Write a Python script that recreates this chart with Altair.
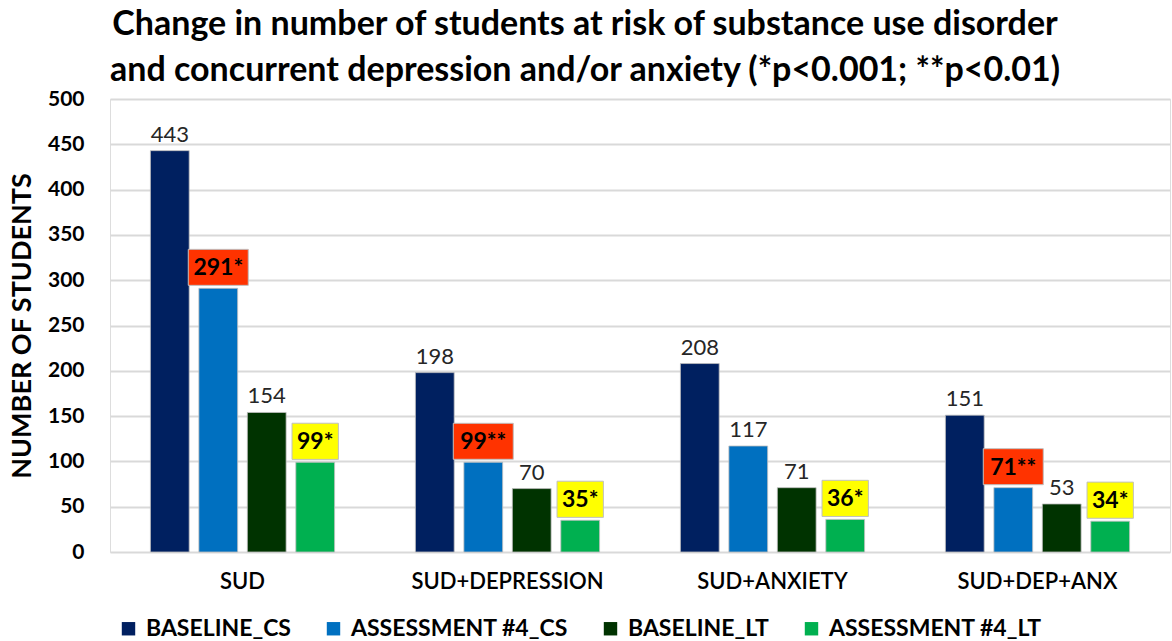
import altair as alt
import pandas as pd

categories = ["SUD", "SUD+DEPRESSION", "SUD+ANXIETY", "SUD+DEP+ANX"]
series = ["BASELINE_CS", "ASSESSMENT #4_CS", "BASELINE_LT", "ASSESSMENT #4_LT"]
colors = ["#002060", "#0070C0", "#003300", "#00B050"]

baseline_cs = [443, 198, 208, 151]
assessment_cs = [291, 99, 117, 71]
baseline_lt = [154, 70, 71, 53]
assessment_lt = [99, 35, 36, 34]

# significance markers per category
sig_cs = ["*", "**", "", "**"]
sig_lt = ["*", "*", "*", "*"]

title_lines = [
    "Change in number of students at risk of substance use disorder",
    "and concurrent depression and/or anxiety (*p<0.001; **p<0.01)",
]

rows = []
for i, cat in enumerate(categories):
    rows.append(dict(category=cat, series=series[0], value=baseline_cs[i], label=str(baseline_cs[i]), box="none"))
    rows.append(dict(category=cat, series=series[1], value=assessment_cs[i],
                     label=f"{assessment_cs[i]}{sig_cs[i]}", box="red" if sig_cs[i] else "none"))
    rows.append(dict(category=cat, series=series[2], value=baseline_lt[i], label=str(baseline_lt[i]), box="none"))
    rows.append(dict(category=cat, series=series[3], value=assessment_lt[i],
                     label=f"{assessment_lt[i]}{sig_lt[i]}", box="yellow" if sig_lt[i] else "none"))
df = pd.DataFrame(rows)

FONT = "Lato"

x_enc = alt.X("category:N", sort=categories,
              scale=alt.Scale(paddingInner=0.305, paddingOuter=0.1525),
              axis=alt.Axis(title=None, labelAngle=0, labelFontSize=22, labelFont=FONT,
                            labelFontWeight=600, labelColor="#000000", labelPadding=19,
                            labelLimit=0, ticks=False, domain=False))
xoff_enc = alt.XOffset("series:N", sort=series, scale=alt.Scale(paddingInner=0.2, paddingOuter=0))
y_enc = alt.Y("value:Q", scale=alt.Scale(domain=[0, 500]),
              axis=alt.Axis(title="NUMBER OF STUDENTS", values=list(range(0, 501, 50)),
                            labelFontSize=21, labelFont=FONT, labelFontWeight="bold",
                            labelColor="#000000", labelPadding=26,
                            titleFontSize=27, titleFont=FONT, titleFontWeight="bold",
                            titleColor="#000000", titlePadding=11,
                            ticks=False, domain=False,
                            gridColor="#D9D9D9", gridWidth=2))

base = alt.Chart(df)

bars = base.mark_bar(stroke="#BFBFBF", strokeWidth=0.8).encode(
    x=x_enc, xOffset=xoff_enc, y=y_enc,
    color=alt.Color("series:N", sort=series,
                    scale=alt.Scale(domain=series, range=colors),
                    legend=alt.Legend(title=None, orient="none", direction="horizontal",
                                      legendX=7, legendY=518, columns=4,
                                      symbolType="square", symbolSize=180,
                                      symbolStrokeWidth=0, labelLimit=0,
                                      labelFontSize=23, labelFont=FONT, labelFontWeight="bold",
                                      labelColor="#000000", columnPadding=31, labelOffset=6)),
)

plain = base.transform_filter(alt.datum.box == "none").mark_text(
    fontSize=22, font=FONT, color="#262626", baseline="alphabetic", dy=-9
).encode(x=x_enc, xOffset=xoff_enc, y=y_enc, text="label:N")

red_box = base.transform_filter(alt.datum.box == "red").mark_point(
    shape="M-1,-0.6 L1,-0.6 L1,0.6 L-1,0.6 Z", size=3600, filled=True,
    fill="#FF3300", stroke="#C0C0C0", strokeWidth=1, opacity=1, yOffset=-21
).encode(x=x_enc, xOffset=xoff_enc, y=y_enc)

yellow_box = base.transform_filter(alt.datum.box == "yellow").mark_point(
    shape="M-1,-0.78 L1,-0.78 L1,0.78 L-1,0.78 Z", size=2150, filled=True,
    fill="#FFFF00", stroke="#C0C0C0", strokeWidth=1, opacity=1, yOffset=-21
).encode(x=x_enc, xOffset=xoff_enc, y=y_enc)

sig = base.transform_filter(alt.datum.box != "none").mark_text(
    fontSize=23, font=FONT, fontWeight="bold", color="#000000", baseline="middle", dy=-20
).encode(x=x_enc, xOffset=xoff_enc, y=y_enc, text="label:N")

chart = alt.layer(bars, plain, red_box, yellow_box, sig).properties(
    width=1060, height=453,
    title=alt.TitleParams(text=title_lines, fontSize=34, font=FONT, fontWeight="bold",
                          color="#000000", anchor="middle", dx=-55, offset=0, lineHeight=46),
    autosize=alt.AutoSizeParams(type="none"),
    padding={"left": 110, "top": 99, "right": 2, "bottom": 89},
).configure_view(stroke=None).configure(background="#FFFFFF")

chart.save("out.html", embed_options={"renderer": "svg", "actions": False})
